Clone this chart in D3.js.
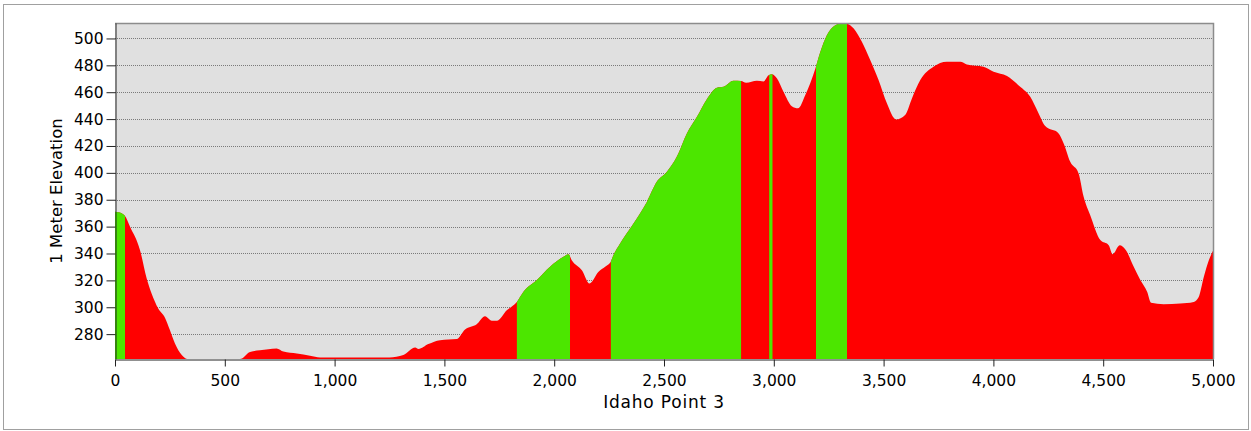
<!DOCTYPE html>
<html>
<head>
<meta charset="utf-8">
<script src="https://cdn.jsdelivr.net/npm/d3@7"></script>
<style>
  body { margin: 0; background: #fff; }
  .axis text { font-family: "DejaVu Sans", sans-serif; font-size: 15.5px; fill: #000; }
</style>
</head>
<body>
<div id="chart"></div>
<script>
// profile along the line (distance, elevation in m)
var distance = [0, 30, 45, 68, 114, 144, 167, 197, 228, 250, 273, 304, 330, 569, 615, 660, 736, 767, 828, 888,
    934, 1250, 1313, 1367, 1382, 1427, 1480, 1556, 1594, 1647, 1685, 1716, 1739, 1784, 1830, 1860, 1921, 1981, 2042, 2065,
    2080, 2126, 2161, 2202, 2232, 2258, 2270, 2300, 2361, 2422, 2467, 2513, 2558, 2604, 2650, 2695, 2741, 2771, 2816, 2851,
    2874, 2923, 2953, 2976, 2991, 3014, 3044, 3082, 3110, 3143, 3189, 3211, 3242, 3280, 3318, 3335, 3364, 3401, 3439, 3477,
    3515, 3557, 3598, 3629, 3667, 3727, 3788, 3849, 3879, 3955, 4001, 4062, 4122, 4168, 4206, 4236, 4297, 4320, 4350, 4388,
    4411, 4441, 4487, 4525, 4543, 4575, 4601, 4639, 4669, 4700, 4718, 4775, 4851, 4912, 4935, 4958, 4981, 5000];
var elevation = [371, 370, 368, 360, 342.5, 321.5, 310, 299, 292, 283, 273, 264.5, 261.5, 261.5, 266.8, 268, 269.4, 267, 265.6, 264,
    262.7, 262.7, 264.4, 270, 269, 272.6, 275.5, 276.3, 283.5, 287.4, 293.4, 290, 290, 297.8, 304, 311.5, 320.2, 330.1, 337.5, 339.5,
    335, 327.6, 317.7, 326.4, 330.1, 334, 338.8, 347.5, 362.4, 378.4, 393.3, 400.8, 411.9, 429.3, 441.7, 454.8, 463.3, 464, 468.5, 468.3,
    467, 468.5, 468, 472.7, 473.4, 470.3, 460.3, 449.6, 448, 457.8, 477.5, 489.5, 502.5, 509.9, 511.5, 511, 507.4, 497.5, 483.9, 469,
    451.7, 439.7, 443, 455.4, 469, 478.9, 482.6, 482.6, 480.7, 478.9, 475.2, 472, 464, 456.6, 444.2, 434.8, 429.3, 421.9, 408.2, 399.6,
    382.2, 368.5, 350, 346.2, 339.5, 346.2, 343, 330.1, 320.2, 311.5, 303.3, 302.3, 302.8, 304, 307.7, 322.6, 335, 342];

// stretches shown in green (rest is red)
var greenStart = [0, 1830, 2258, 2979, 3192];
var greenEnd = [45, 2072, 2851, 2994, 3333];

var xTicks = [0, 500, 1000, 1500, 2000, 2500, 3000, 3500, 4000, 4500, 5000];
var yTicks = [280, 300, 320, 340, 360, 380, 400, 420, 440, 460, 480, 500];

var width = 1251, height = 431;
var padLeft = 115, padRight = 1213, padTop = 23, padBottom = 359;

var data = distance.map(function(d, i) { return {d: d, e: elevation[i]}; });

var svg = d3.select("#chart").append("svg")
    .attr("width", width)
    .attr("height", height);

// outer frame
svg.append("rect")
    .attr("x", 3.5).attr("y", 4.5)
    .attr("width", 1245).attr("height", 425)
    .attr("fill", "#fff")
    .attr("stroke", "#a0a0a0");

var x = d3.scaleLinear().domain([0, 5000]).range([padLeft, padRight]);
var y = d3.scaleLinear().domain(d3.extent(elevation)).range([padBottom, padTop]);

svg.append("rect")
    .attr("x", padLeft).attr("y", padTop)
    .attr("width", padRight - padLeft).attr("height", padBottom - padTop)
    .attr("fill", "#e0e0e0");

// grid
svg.append("g").selectAll("line")
    .data(yTicks)
    .enter().append("line")
    .attr("x1", padLeft).attr("x2", padRight)
    .attr("y1", function(d) { return Math.round(y(d)) + 0.5; })
    .attr("y2", function(d) { return Math.round(y(d)) + 0.5; })
    .attr("stroke", "#7a7a7a")
    .attr("stroke-dasharray", "1,1");

var area = d3.area()
    .curve(d3.curveMonotoneX)
    .x(function(p) { return x(p.d); })
    .y0(padBottom)
    .y1(function(p) { return y(p.e); });

svg.append("path")
    .datum(data)
    .attr("d", area)
    .attr("fill", "#ff0000");

var defs = svg.append("defs");
greenStart.forEach(function(s, i) {
    defs.append("clipPath").attr("id", "g" + i)
        .append("rect")
        .attr("x", x(s)).attr("y", padTop)
        .attr("width", x(greenEnd[i]) - x(s))
        .attr("height", padBottom - padTop);
    svg.append("path")
        .datum(data)
        .attr("d", area)
        .attr("fill", "#4ce600")
        .attr("clip-path", "url(#g" + i + ")");
});

// plot border top/right
svg.append("path")
    .attr("d", "M" + padLeft + "," + (padTop + 0.5) + "H" + (padRight + 0.5) + "V" + padBottom)
    .attr("fill", "none")
    .attr("stroke", "#8c8c8c")
    .attr("stroke-width", 1.5);

var xAxis = svg.append("g")
    .attr("class", "axis")
    .attr("transform", "translate(0," + (padBottom + 0.5) + ")")
    .call(d3.axisBottom(x).tickValues(xTicks).tickFormat(d3.format(",")).tickSize(7).tickPadding(8).tickSizeOuter(0));
xAxis.select(".domain").attr("stroke", "#222");
xAxis.selectAll(".tick line").attr("stroke", "#222");

var yAxis = svg.append("g")
    .attr("class", "axis")
    .attr("transform", "translate(" + (padLeft + 0.5) + ",0)")
    .call(d3.axisLeft(y).tickValues(yTicks).tickSize(9).tickPadding(3).tickSizeOuter(0));
yAxis.select(".domain").attr("stroke", "#222");
yAxis.selectAll(".tick line").attr("stroke", "#222");

svg.append("text")
    .attr("x", (padLeft + padRight) / 2)
    .attr("y", 408)
    .attr("text-anchor", "middle")
    .style("font-family", "DejaVu Sans, sans-serif")
    .style("font-size", "17px")
    .style("letter-spacing", "0.8px")
    .attr("fill", "#000")
    .text("Idaho Point 3");

svg.append("text")
    .attr("transform", "translate(62," + ((padTop + padBottom) / 2) + ") rotate(-90)")
    .attr("text-anchor", "middle")
    .style("font-family", "DejaVu Sans, sans-serif")
    .style("font-size", "16.5px")
    .attr("fill", "#000")
    .text("1 Meter Elevation");
</script>
</body>
</html>
